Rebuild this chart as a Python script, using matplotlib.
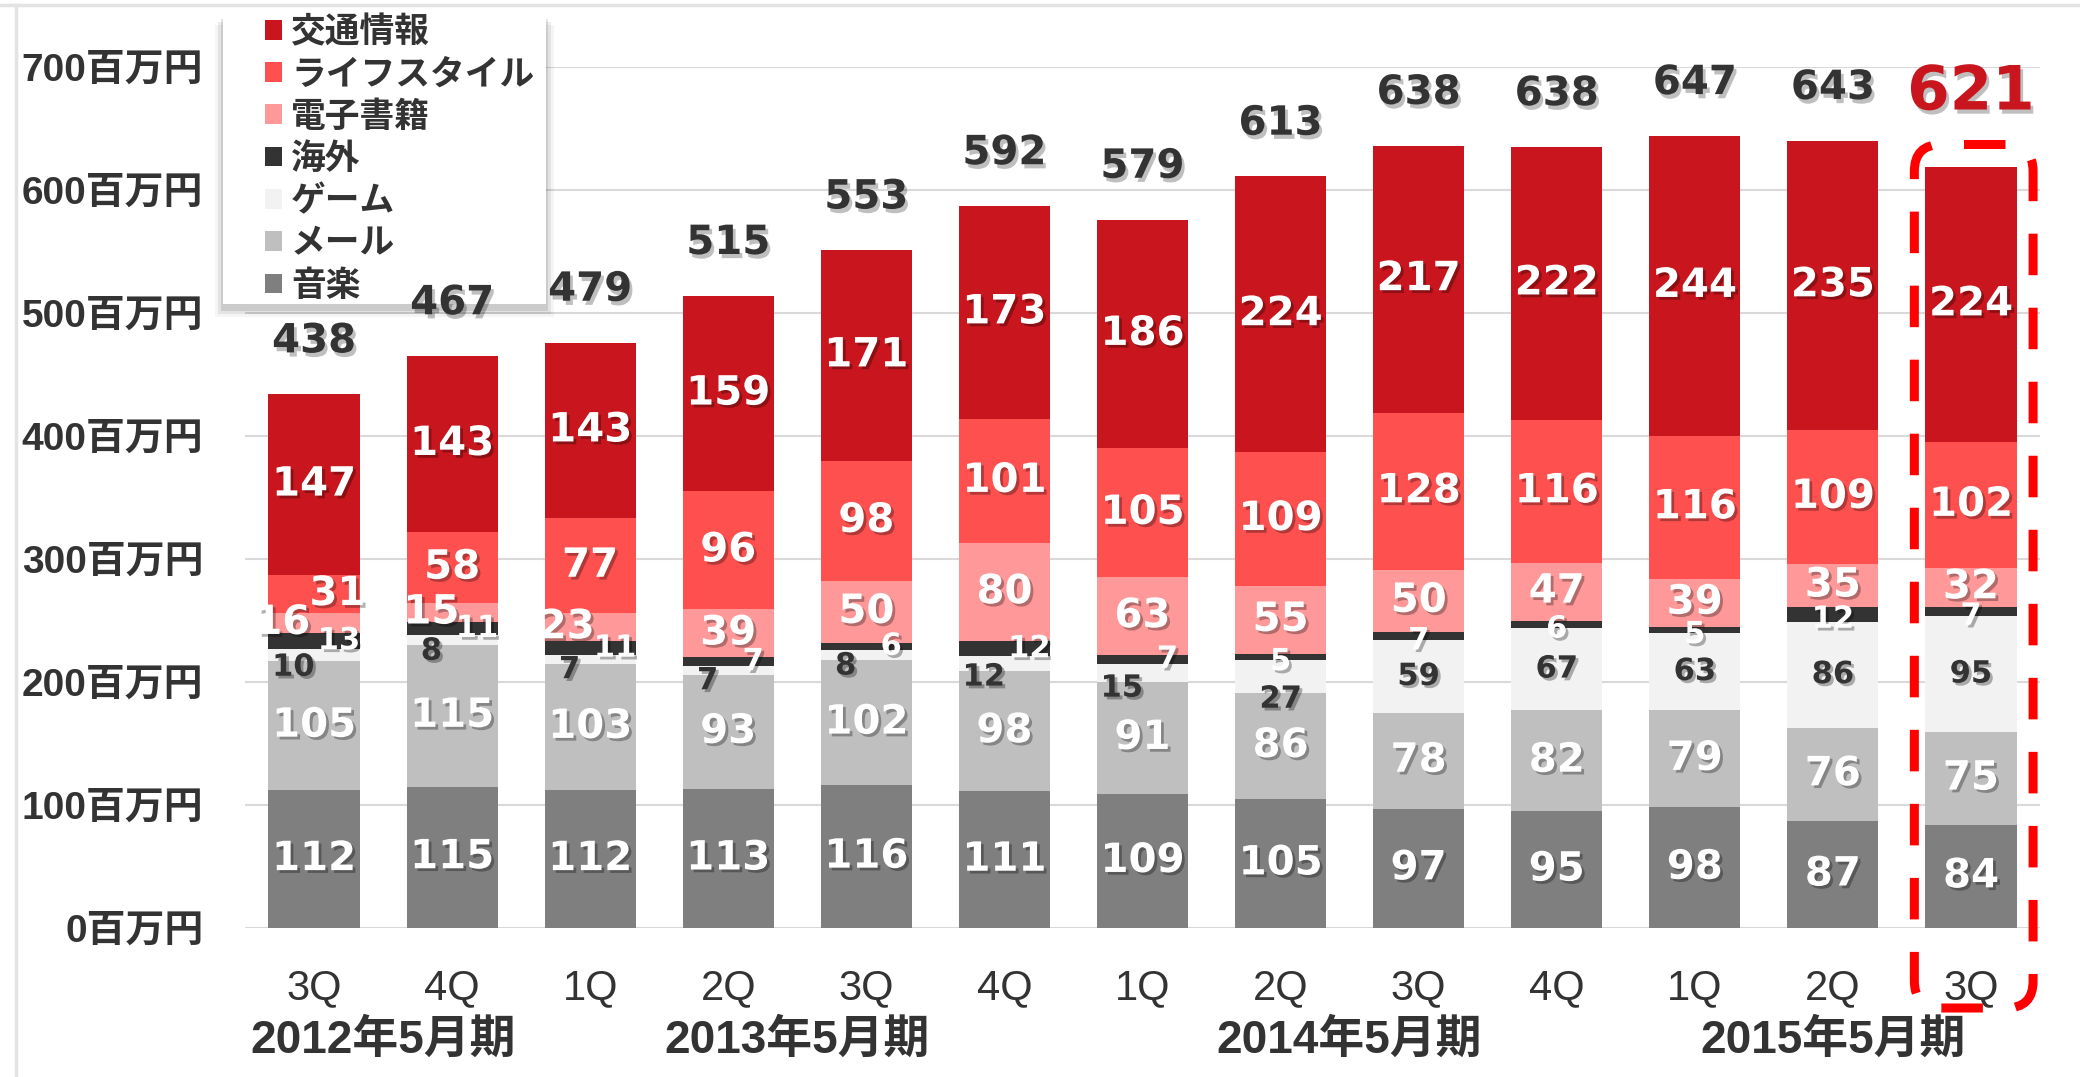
import matplotlib
matplotlib.use('Agg')
import matplotlib.pyplot as plt
import matplotlib.patheffects as pe
from matplotlib.patches import FancyBboxPatch, Rectangle
from matplotlib.lines import Line2D
from matplotlib.font_manager import FontProperties
from matplotlib.transforms import IdentityTransform
import numpy as np

# ---------------- data ----------------
quarters = ['3Q', '4Q', '1Q', '2Q', '3Q', '4Q', '1Q', '2Q', '3Q', '4Q', '1Q', '2Q', '3Q']
fiscal_years = ['2012年5月期', '2013年5月期', '2014年5月期', '2015年5月期']
fiscal_year_first = [0, 2, 6, 10]
fiscal_year_last = [1, 5, 9, 12]

series_names = ['音楽', 'メール', 'ゲーム', '海外', '電子書籍', 'ライフスタイル', '交通情報']
music = [112, 115, 112, 113, 116, 111, 109, 105, 97, 95, 98, 87, 84]
mail = [105, 115, 103, 93, 102, 98, 91, 86, 78, 82, 79, 76, 75]
game = [10, 8, 7, 7, 8, 12, 15, 27, 59, 67, 63, 86, 95]
overseas = [13, 11, 11, 7, 6, 12, 7, 5, 7, 6, 5, 12, 7]
ebook = [16, 15, 23, 39, 50, 80, 63, 55, 50, 47, 39, 35, 32]
lifestyle = [31, 58, 77, 96, 98, 101, 105, 109, 128, 116, 116, 109, 102]
traffic = [147, 143, 143, 159, 171, 173, 186, 224, 217, 222, 244, 235, 224]
totals = [438, 467, 479, 515, 553, 592, 579, 613, 638, 638, 647, 643, 621]
ytick_values = [0, 100, 200, 300, 400, 500, 600, 700]

series_values = [music, mail, game, overseas, ebook, lifestyle, traffic]
series_colors = ['#7F7F7F', '#BFBFBF', '#F2F2F2', '#333333', '#FF9999', '#FF5050', '#C9161E']

# ---------------- figure ----------------
W, H = 2080, 1077
fig = plt.figure(figsize=(W / 100, H / 100), dpi=100)
fig.patch.set_facecolor('white')
ax = fig.add_axes([245 / W, 1 - 928 / H, (2040 - 245) / W, (928 - 67) / H])

n = len(quarters)
x = np.arange(n)
bar_w = 0.66
DARK = '#333333'
NUM = 'DejaVu Sans'
JP = ['Liberation Sans', 'Noto Sans CJK JP']
shadow = [pe.withSimplePatchShadow(offset=(2, -2), shadow_rgbFace='#000000', alpha=0.3)]

bottom = np.zeros(n)
bottoms = []
for name, vals, col in zip(series_names, series_values, series_colors):
    ax.bar(x, vals, bar_w, bottom=bottom, color=col, label=name, zorder=2, linewidth=0)
    bottoms.append(bottom.copy())
    bottom = bottom + np.array(vals)
stack_top = bottom

# segment labels
for name, vals, b in zip(series_names, series_values, bottoms):
    for i in range(n):
        v = vals[i]
        yc = b[i] + v / 2
        dx = 0.0
        color = 'white'
        size = 29
        if name == 'ゲーム':
            color = DARK
            size = 22
            if v < 30:
                yc = b[i] - 5
                dx = -0.15 if v < 20 else 0.0
        elif name == '海外':
            size = 22
            if game[i] < 20:
                dx = 0.18
            else:
                yc = b[i] + v / 2 - 4
        elif name == '電子書籍' and v < 25:
            dx = -0.17 if v > 15 else -0.15
            if i == 0:
                dx = -0.23
        elif name == 'ライフスタイル' and v < 40:
            dx = 0.17
        ax.text(i + dx, yc, str(v), ha='center', va='center', color=color,
                fontsize=size, fontweight='bold', family=NUM, zorder=4,
                path_effects=shadow)

# totals
for i in range(n):
    last = (i == n - 1)
    ax.annotate(str(totals[i]), xy=(i, stack_top[i]), xycoords='data',
                xytext=(0, 53 if last else 38), textcoords='offset points',
                ha='center', va='center', annotation_clip=False,
                fontsize=44 if last else 29, fontweight='bold', family=NUM,
                color='#C9161E' if last else DARK, zorder=4,
                path_effects=[pe.withSimplePatchShadow(offset=(2, -3), shadow_rgbFace='#000000', alpha=0.25)])

# axes styling
ax.set_xlim(-0.5, n - 0.5)
ax.set_ylim(0, 700)
ax.set_yticks(ytick_values, labels=[f'{v}百万円' for v in ytick_values])
ax.set_xticks(x, labels=quarters)
for s in ax.spines.values():
    s.set_visible(False)
ax.grid(axis='y', color='#D9D9D9', linewidth=1.5)
ax.set_axisbelow(True)
ax.tick_params(axis='both', length=0)
ax.tick_params(axis='y', pad=30)
ax.tick_params(axis='x', pad=29)
for lab in ax.get_yticklabels():
    lab.set_fontproperties(FontProperties(family=JP, weight='bold', size=28))
    lab.set_color(DARK)
for lab in ax.get_xticklabels():
    lab.set_fontproperties(FontProperties(family=JP, size=30))
    lab.set_color(DARK)

# fiscal year labels
for fy, a, b in zip(fiscal_years, fiscal_year_first, fiscal_year_last):
    ax.annotate(fy, xy=((a + b) / 2, 0), xycoords=('data', 'axes fraction'),
                xytext=(0, -81), textcoords='offset points', ha='center', va='center',
                fontproperties=FontProperties(family=JP, weight='bold', size=33),
                color=DARK, annotation_clip=False)

# legend background box with a soft shadow (drawn in axes so labels sit above it)
lx0, lx1, ly0, ly1 = 223, 546, 12, 304
for k, a in [(8, 0.04), (5, 0.07), (2, 0.10)]:
    ax.add_patch(Rectangle(((lx0 - k) / W, 1 - (ly1 + k + 5) / H),
                           (lx1 - lx0 + 2 * k) / W, (ly1 - ly0) / H,
                           transform=fig.transFigure, facecolor='#000000', alpha=a,
                           edgecolor='none', clip_on=False, zorder=1.4))
ax.add_patch(Rectangle((lx0 / W, 1 - ly1 / H), (lx1 - lx0) / W, (ly1 - ly0) / H,
                       transform=fig.transFigure, facecolor='white', edgecolor='none',
                       clip_on=False, zorder=1.5))

handles, labels = ax.get_legend_handles_labels()
leg = fig.legend(handles[::-1], labels[::-1], loc='upper left',
                 bbox_to_anchor=(265 / W, 1 - 14 / H), frameon=False,
                 prop=FontProperties(family=['Noto Sans CJK JP'], weight='bold', size=25),
                 handlelength=0.5, handleheight=0.5, handletextpad=0.25,
                 labelspacing=0.21, borderpad=0, borderaxespad=0, labelcolor=DARK)

# highlight box around the latest quarter
xl = ax.transData.transform((n - 1 - 0.41, 0))[0]
xr = ax.transData.transform((n - 1 + 0.45, 0))[0]
yt = ax.transData.transform((n - 1, stack_top[-1] + 18))[1]
yb = ax.transData.transform((n - 1, 0))[1] - 80
hl = FancyBboxPatch((xl, yb), xr - xl, yt - yb,
                    boxstyle='round,pad=0,rounding_size=27',
                    transform=IdentityTransform(), facecolor='none',
                    edgecolor='#FF0000', linewidth=6.5,
                    linestyle=(0, (4.6, 3.6)), zorder=6)
fig.add_artist(hl)

# slide frame lines
fig.add_artist(Line2D([0, 1], [1 - 5 / H, 1 - 5 / H], transform=fig.transFigure,
                      color='#E3E3E3', linewidth=2.5))
fig.add_artist(Line2D([16 / W, 16 / W], [0, 1 - 5 / H], transform=fig.transFigure,
                      color='#E3E3E3', linewidth=2.5))

fig.savefig('out.png', dpi=100)
